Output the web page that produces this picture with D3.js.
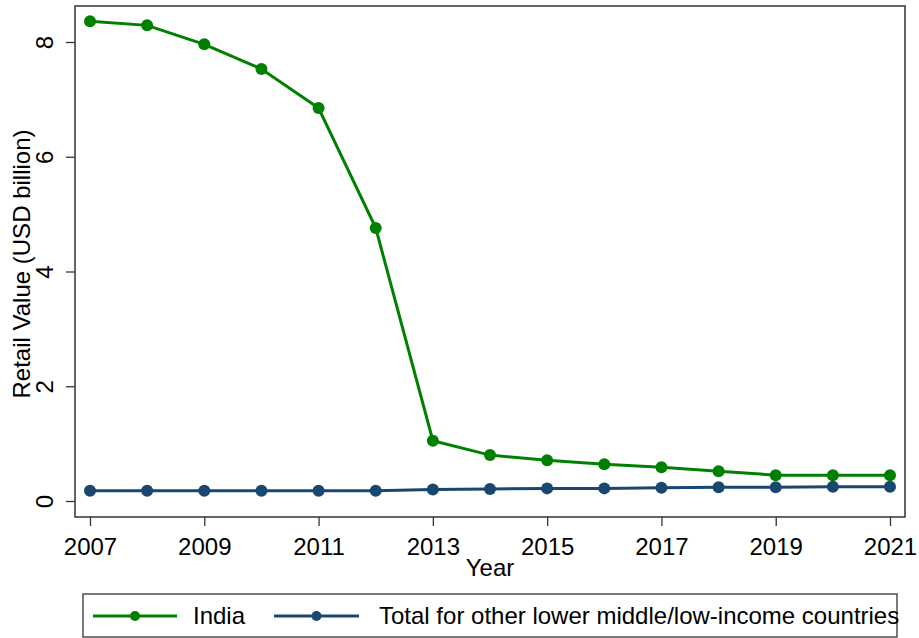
<!DOCTYPE html>
<html>
<head>
<meta charset="utf-8">
<script src="https://cdn.jsdelivr.net/npm/d3@7"></script>
<style>
  body { margin: 0; background: #fff; }
  text { font-family: "Liberation Sans", Arial, sans-serif; fill: #000; }
</style>
</head>
<body>
<svg id="chart" width="919" height="638"></svg>
<script>
/* data */
var years = [2007, 2008, 2009, 2010, 2011, 2012, 2013, 2014, 2015, 2016, 2017, 2018, 2019, 2020, 2021];
var india = [8.36, 8.29, 7.96, 7.53, 6.85, 4.76, 1.05, 0.80, 0.71, 0.64, 0.59, 0.52, 0.45, 0.45, 0.45];
var others = [0.18, 0.18, 0.18, 0.18, 0.18, 0.18, 0.20, 0.21, 0.22, 0.22, 0.23, 0.24, 0.24, 0.25, 0.25];
var xTicks = [2007, 2009, 2011, 2013, 2015, 2017, 2019, 2021];
var yTicks = [0, 2, 4, 6, 8];
var seriesNames = ["India", "Total for other lower middle/low-income countries"];
var seriesColors = ["#008000", "#1a476f"];

var svg = d3.select("#chart");
var fontSize = "24px";

// plot frame
var frameL = 75, frameR = 905, frameT = 6, frameB = 517;

var x = d3.scaleLinear().domain([2007, 2021]).range([90, 890]);
var y = d3.scaleLinear().domain([0, 8]).range([501, 42]);

svg.append("rect")
  .attr("x", frameL).attr("y", frameT)
  .attr("width", frameR - frameL).attr("height", frameB - frameT)
  .attr("fill", "none").attr("stroke", "#333").attr("stroke-width", 1.5);

// y axis
var yAxis = svg.append("g").attr("transform", "translate(" + frameL + ",0)")
  .call(d3.axisLeft(y).tickValues(yTicks).tickSize(9).tickFormat(d3.format("d")));
yAxis.select(".domain").remove();
yAxis.selectAll("line").attr("stroke", "#333").attr("stroke-width", 1.3);
yAxis.selectAll("text")
  .attr("x", null)
  .attr("transform", "translate(-30,0) rotate(-90)")
  .attr("text-anchor", "middle")
  .attr("dy", "0.35em")
  .style("font-size", fontSize).style("font-family", "Liberation Sans, Arial, sans-serif");

// x axis
var xAxis = svg.append("g").attr("transform", "translate(0," + frameB + ")")
  .call(d3.axisBottom(x).tickValues(xTicks).tickSize(9).tickFormat(d3.format("d")));
xAxis.select(".domain").remove();
xAxis.selectAll("line").attr("stroke", "#333").attr("stroke-width", 1.3);
xAxis.selectAll("text")
  .attr("y", 30).attr("dy", "0.35em")
  .style("font-size", fontSize).style("font-family", "Liberation Sans, Arial, sans-serif");

// axis titles
svg.append("text")
  .attr("x", 490).attr("y", 568).attr("dy", "0.35em")
  .attr("text-anchor", "middle")
  .style("font-size", fontSize)
  .text("Year");

svg.append("text")
  .attr("transform", "translate(22,264) rotate(-90)")
  .attr("text-anchor", "middle")
  .attr("dy", "0.35em")
  .style("font-size", fontSize)
  .text("Retail Value (USD billion)");

// series
var line = d3.line().x(function(d) { return x(d[0]); }).y(function(d) { return y(d[1]); });
var allSeries = [others, india];
var allColors = [seriesColors[1], seriesColors[0]];
allSeries.forEach(function(vals, i) {
  var pts = years.map(function(yr, j) { return [yr, vals[j]]; });
  svg.append("path").datum(pts)
    .attr("d", line)
    .attr("fill", "none")
    .attr("stroke", allColors[i])
    .attr("stroke-width", 3);
  svg.append("g").selectAll("circle").data(pts).enter().append("circle")
    .attr("cx", function(d) { return x(d[0]); })
    .attr("cy", function(d) { return y(d[1]); })
    .attr("r", 6)
    .attr("fill", allColors[i]);
});

// legend
svg.append("rect")
  .attr("x", 83).attr("y", 594).attr("width", 814).attr("height", 43)
  .attr("fill", "#fff").attr("stroke", "#333").attr("stroke-width", 1.3);

var legendItems = [
  { x0: 93, x1: 177, tx: 193 },
  { x0: 274, x1: 359, tx: 379 }
];
legendItems.forEach(function(it, i) {
  svg.append("line")
    .attr("x1", it.x0).attr("x2", it.x1).attr("y1", 616).attr("y2", 616)
    .attr("stroke", seriesColors[i]).attr("stroke-width", 3);
  svg.append("circle")
    .attr("cx", (it.x0 + it.x1) / 2).attr("cy", 616).attr("r", 5)
    .attr("fill", seriesColors[i]);
  svg.append("text")
    .attr("x", it.tx).attr("y", 616).attr("dy", "0.35em")
    .style("font-size", fontSize)
    .text(seriesNames[i]);
});
</script>
</body>
</html>
